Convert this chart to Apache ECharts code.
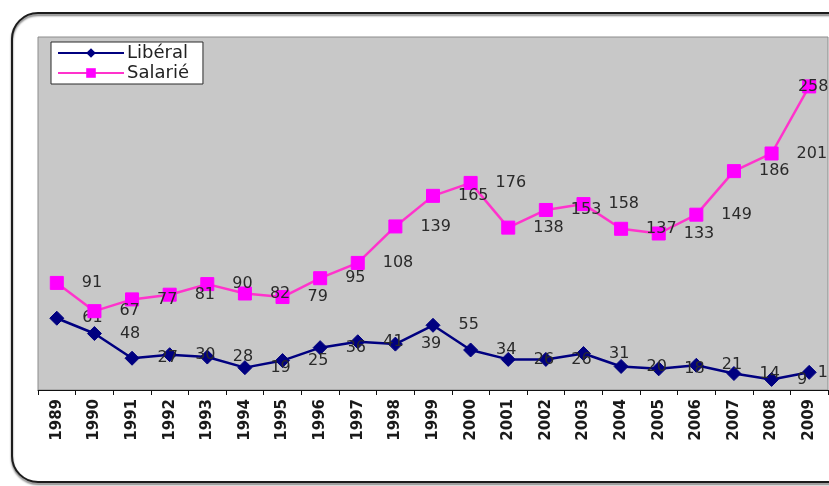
<!DOCTYPE html>
<html>
<head>
<meta charset="utf-8">
<script src="https://cdn.jsdelivr.net/npm/echarts@6/dist/echarts.min.js"></script>
<style>
  html, body { margin: 0; padding: 0; background: #ffffff; }
  #chart { width: 829px; height: 486px; }
</style>
</head>
<body>
<div id="chart"></div>
<script>
// Years on the category axis
var years = ['1989','1990','1991','1992','1993','1994','1995','1996','1997','1998',
             '1999','2000','2001','2002','2003','2004','2005','2006','2007','2008','2009'];

// Yearly counts per status
var liberal = [61, 48, 27, 30, 28, 19, 25, 36, 41, 39, 55, 34, 26, 26, 31, 20, 18, 21, 14, 9, 15];
var salarie = [91, 67, 77, 81, 90, 82, 79, 95, 108, 139, 165, 176, 138, 153, 158, 137, 133, 149, 186, 201, 258];

var seriesNames = ['Libéral', 'Salarié'];

var FONT = 'DejaVu Sans';

// The last point of each series gets its own label placement (near the right edge)
function withLastLabel(values, lastLabel) {
  return values.map(function (v, i) {
    if (i === values.length - 1) {
      return { value: v, label: lastLabel };
    }
    return v;
  });
}

var chart = echarts.init(document.getElementById('chart'), null, { renderer: 'canvas' });

chart.setOption({
  backgroundColor: '#ffffff',
  animation: false,
  graphic: [{
    type: 'rect',
    z: 100,
    silent: true,
    shape: { x: 12, y: 13, width: 860, height: 469, r: 26 },
    style: {
      fill: 'none',
      stroke: '#1c1c1c',
      lineWidth: 2,
      shadowColor: 'rgba(0,0,0,0.55)',
      shadowBlur: 2,
      shadowOffsetY: 2
    }
  }],
  grid: {
    left: 38,
    top: 37,
    right: 1,
    bottom: 96,
    show: true,
    backgroundColor: '#c8c8c8',
    borderColor: '#8c8c8c',
    borderWidth: 1
  },
  legend: {
    left: 51,
    top: 42,
    orient: 'vertical',
    data: seriesNames,
    backgroundColor: '#ffffff',
    borderColor: '#2a2a2a',
    borderWidth: 1,
    borderRadius: 0,
    padding: [2, 14, 2, 6],
    itemGap: 2,
    itemWidth: 66,
    itemHeight: 12,
    textStyle: { fontFamily: FONT, fontSize: 18, color: '#222222', padding: [0, 0, 0, -2] }
  },
  xAxis: {
    type: 'category',
    data: years,
    boundaryGap: true,
    axisLine: { show: true, lineStyle: { color: '#111111', width: 1 } },
    axisTick: { show: true, length: 5, lineStyle: { color: '#111111' } },
    axisLabel: {
      interval: 0,
      rotate: 90,
      margin: 9,
      fontFamily: FONT,
      fontSize: 15,
      fontWeight: 'bold',
      color: '#1a1a1a'
    },
    splitLine: { show: false }
  },
  yAxis: {
    type: 'value',
    min: 0,
    max: 300,
    interval: 50,
    axisLine: { show: false },
    axisTick: { show: false },
    axisLabel: { show: false },
    splitLine: { show: false }
  },
  series: [
    {
      name: seriesNames[0],
      type: 'line',
      data: withLastLabel(liberal, { position: 'right', distance: 1 }),
      symbol: 'diamond',
      symbolSize: 14,
      z: 3,
      lineStyle: { color: '#000080', width: 2.5 },
      itemStyle: { color: '#000080', borderColor: '#000080' },
      label: {
        show: true,
        position: 'right',
        distance: 18,
        fontFamily: FONT,
        fontSize: 16,
        color: '#2a2a2a'
      }
    },
    {
      name: seriesNames[1],
      type: 'line',
      data: withLastLabel(salarie, { position: 'inside', offset: [4, 0] }),
      symbol: 'rect',
      symbolSize: 13,
      z: 4,
      lineStyle: { color: '#ff33cc', width: 2.5 },
      itemStyle: { color: '#ff00ff', borderColor: '#ff00ff' },
      label: {
        show: true,
        position: 'right',
        distance: 18,
        fontFamily: FONT,
        fontSize: 16,
        color: '#2a2a2a'
      }
    }
  ]
});
</script>
</body>
</html>
